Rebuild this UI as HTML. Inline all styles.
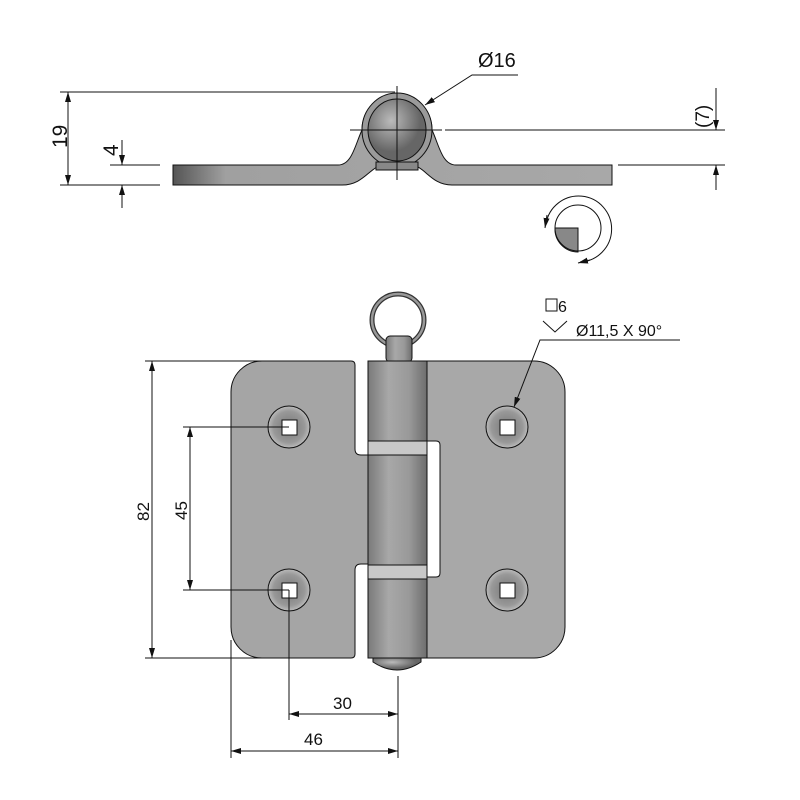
<!DOCTYPE html>
<html><head><meta charset="utf-8"><style>body{margin:0;background:#fff}svg{display:block}text{font-family:"Liberation Sans",sans-serif;fill:#111}</style></head><body>
<svg width="800" height="800" viewBox="0 0 800 800" xmlns="http://www.w3.org/2000/svg">
<defs>
<marker id="a" viewBox="0 0 10 6" refX="10" refY="3" markerWidth="10" markerHeight="6" orient="auto-start-reverse" markerUnits="userSpaceOnUse"><path d="M0,0L10,3L0,6z" fill="#111"/></marker>
<linearGradient id="pin" x1="0" x2="1"><stop offset="0" stop-color="#7a7a7a"/><stop offset=".35" stop-color="#a8a8a8"/><stop offset=".7" stop-color="#999"/><stop offset="1" stop-color="#6d6d6d"/></linearGradient>
<linearGradient id="pl" x1="0" x2="1"><stop offset="0" stop-color="#555"/><stop offset=".12" stop-color="#a0a0a0"/><stop offset="1" stop-color="#a8a8a8"/></linearGradient>
<radialGradient id="ball" cx=".4" cy=".35"><stop offset="0" stop-color="#bbb"/><stop offset="1" stop-color="#666"/></radialGradient>
<radialGradient id="hole" cx=".5" cy=".5"><stop offset="0" stop-color="#777"/><stop offset=".75" stop-color="#999"/><stop offset="1" stop-color="#bbb"/></radialGradient>
</defs>
<g stroke="#111" stroke-width="1" fill="none">
<!-- top view -->
<path d="M173,165 H338 C352,165 355,145 362,130 A35,36 0 1 1 432,130 C439,145 442,165 456,165 H612 V185 H452 C430,185 425,165 410,165 H385 C370,165 365,185 342,185 H173 Z" fill="url(#pl)"/>
<ellipse cx="397" cy="130" rx="35" ry="37" fill="#9a9a9a"/>
<ellipse cx="397" cy="130" rx="29" ry="31" fill="url(#ball)"/>
<rect x="376" y="162" width="42" height="8" fill="#888"/>
<path d="M397,86V180M350,130H442"/>
<path d="M60,92H395M60,185H160M110,165H160M445,130H725M618,165H725"/>
<path d="M68,92V185" marker-start="url(#a)" marker-end="url(#a)"/>
<path d="M122,140V165" marker-end="url(#a)"/>
<path d="M122,208V185" marker-end="url(#a)"/>
<path d="M716,88V130" marker-end="url(#a)"/>
<path d="M716,190V165" marker-end="url(#a)"/>
<path d="M518,75H472L425,105" marker-end="url(#a)"/>
<!-- rotation symbol -->
<path d="M555,228H578V252A23,23 0 0 1 555,228Z" fill="#888"/>
<circle cx="578" cy="228" r="23"/>
<path d="M546,224 A33,33 0 1 1 580,262" />
<path d="M547,215 L545,228" marker-end="url(#a)"/>
<path d="M590,260 L578,263" marker-end="url(#a)"/>
<!-- front view -->
<circle cx="398" cy="320" r="26" stroke="#333" stroke-width="5"/>
<circle cx="398" cy="320" r="26" stroke="#999" stroke-width="2.5"/>
<rect x="386" y="336" width="26" height="26" rx="4" fill="url(#pin)"/>
<path d="M262,361 H351 Q355,361 355,365 V449 Q355,455 361,455 H368 V564 H361 Q355,564 355,570 V654 Q355,658 351,658 H262 A31,31 0 0 1 231,627 V392 A31,31 0 0 1 262,361Z" fill="#a5a5a5"/>
<path d="M427,361 H534 A31,31 0 0 1 565,392 V627 A31,31 0 0 1 534,658 H427Z" fill="#a8a8a8"/>
<path d="M427,441 H436 Q440,441 440,445 V573 Q440,577 436,577 H427Z" fill="#fff"/>
<path d="M373,658 H421 V662 Q397,678 373,662Z" fill="url(#ball)"/>
<rect x="368" y="361" width="59" height="297" fill="url(#pin)"/>
<rect x="368" y="441" width="59" height="14" fill="#c8c8c8"/>
<rect x="368" y="565" width="59" height="14" fill="#c8c8c8"/>
<circle cx="289" cy="427" r="21" fill="url(#hole)"/><rect x="282" y="420" width="15" height="15" fill="#fff"/>
<circle cx="289" cy="590" r="21" fill="url(#hole)"/><rect x="282" y="583" width="15" height="15" fill="#fff"/>
<circle cx="507" cy="427" r="21" fill="url(#hole)"/><rect x="500" y="420" width="15" height="15" fill="#fff"/>
<circle cx="507" cy="590" r="21" fill="url(#hole)"/><rect x="500" y="583" width="15" height="15" fill="#fff"/>
<!-- dims -->
<path d="M145,361H262M145,658H262M183,427H289M183,590H289M231,640V758M289,590V720M398,676V758"/>
<path d="M152,361V658" marker-start="url(#a)" marker-end="url(#a)"/>
<path d="M190,427V590" marker-start="url(#a)" marker-end="url(#a)"/>
<path d="M289,714H398" marker-start="url(#a)" marker-end="url(#a)"/>
<path d="M231,751H398" marker-start="url(#a)" marker-end="url(#a)"/>
<path d="M680,340H540L514,407" marker-end="url(#a)"/>
<path d="M543,321L555,332L567,321"/>
<rect x="546" y="299" width="11" height="12"/>
</g>
<text x="478" y="67" font-size="20">Ø16</text>
<text x="0" y="0" font-size="21" transform="translate(67,148) rotate(-90)">19</text>
<text x="0" y="0" font-size="21" transform="translate(118,156) rotate(-90)">4</text>
<text x="0" y="0" font-size="19" transform="translate(709,128) rotate(-90)">(7)</text>
<text x="558" y="312" font-size="16">6</text>
<text x="576" y="336" font-size="16">Ø11,5 X 90°</text>
<text x="0" y="0" font-size="17" transform="translate(149,521) rotate(-90)">82</text>
<text x="0" y="0" font-size="17" transform="translate(187,520) rotate(-90)">45</text>
<text x="333" y="709" font-size="17">30</text>
<text x="304" y="745" font-size="17">46</text>
</svg>
</body></html>
